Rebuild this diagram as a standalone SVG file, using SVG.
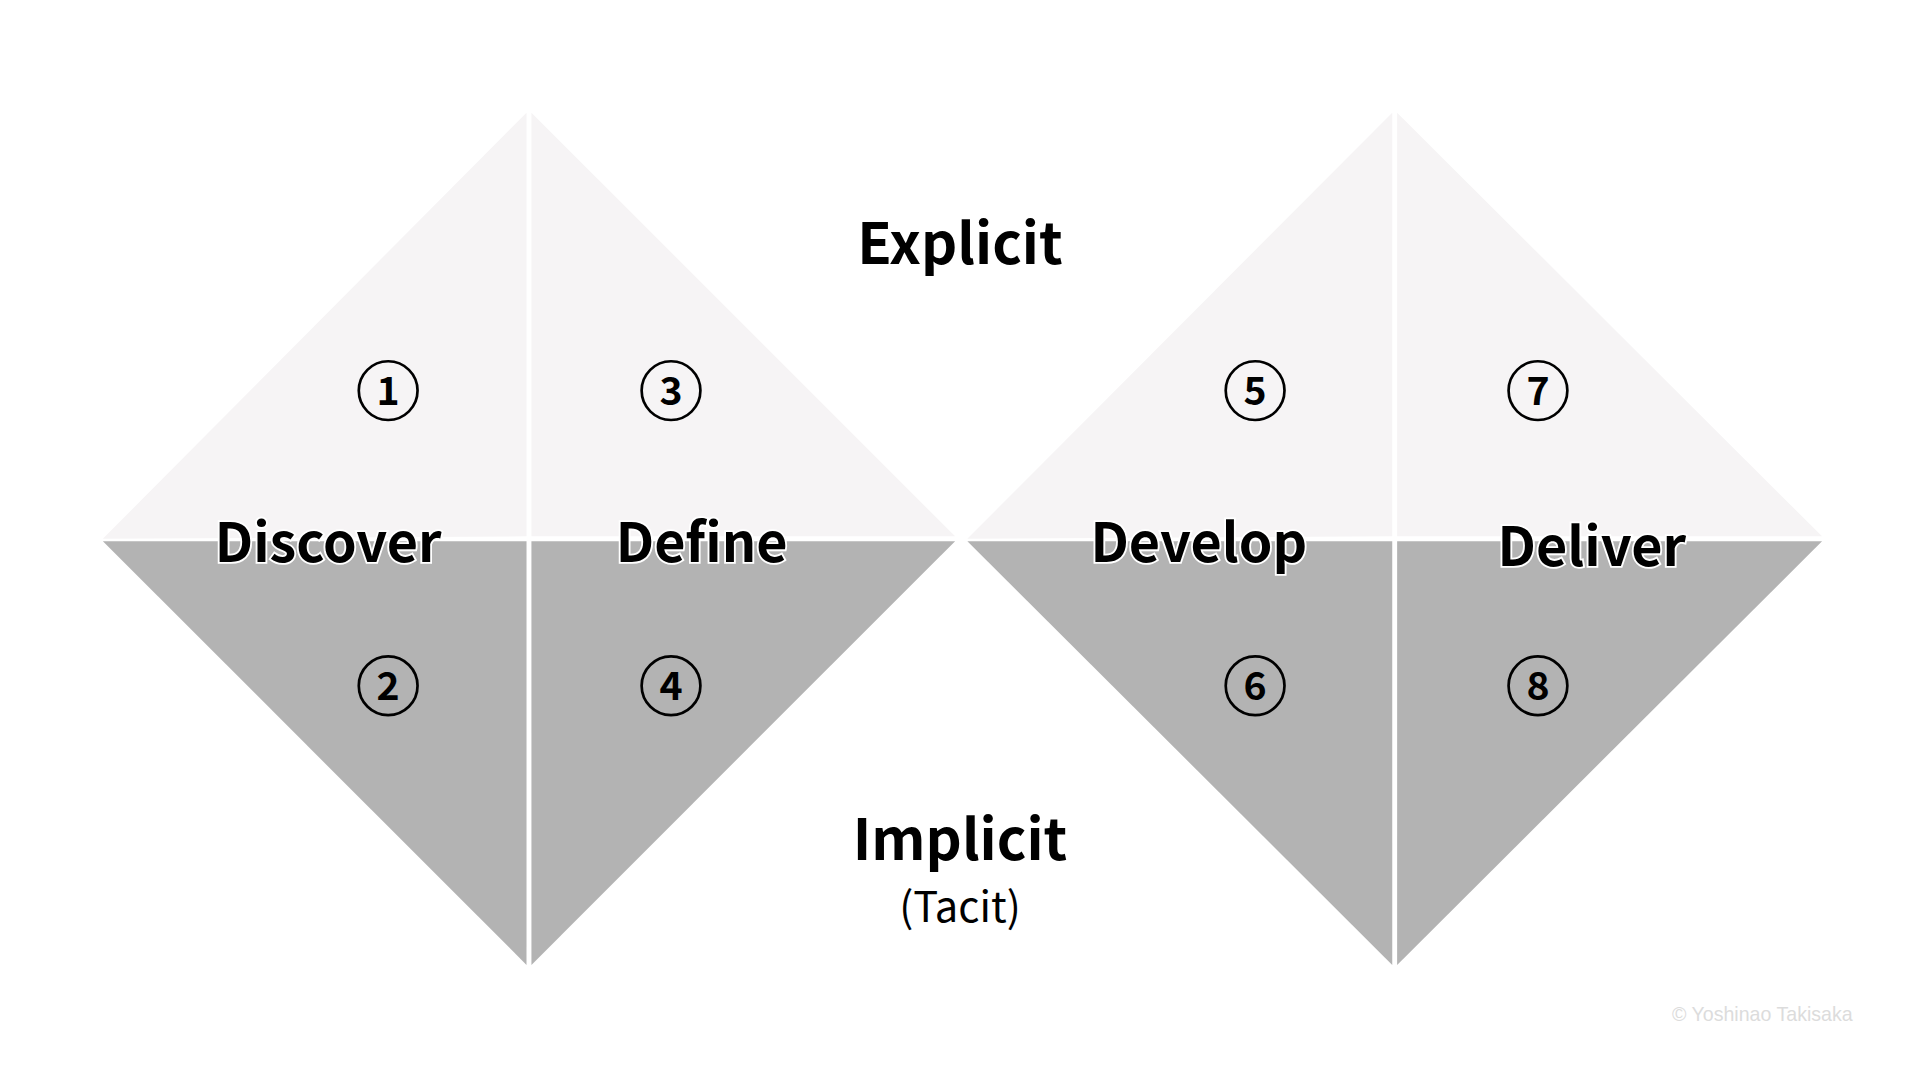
<svg xmlns="http://www.w3.org/2000/svg" width="1920" height="1080" viewBox="0 0 1920 1080">
<style>
.up{fill:#f6f4f5}.lo{fill:#b3b3b3}
.lbl{font-family:"Noto Sans CJK JP","Noto Sans",sans-serif;font-weight:bold;font-size:44px;text-anchor:middle;fill:#000;stroke:#fff;stroke-width:3;paint-order:stroke}
.c{fill:none;stroke:#000;stroke-width:2.2}
.n{font-family:"Noto Sans CJK JP","Noto Sans",sans-serif;font-weight:bold;font-size:32px;text-anchor:middle;fill:#000}
.h{font-family:"Noto Sans CJK JP","Noto Sans",sans-serif;font-weight:bold;font-size:46px;text-anchor:middle;fill:#000}
</style>
<rect width="1920" height="1080" fill="#fff"/>
<g transform="scale(1.22449)">
<g id="diamond1">
<polygon class="up" points="84,440 430,92 430,438"/>
<polygon class="up" points="434,92 780,438 434,438"/>
<polygon class="lo" points="84,442 430,442 430,788"/>
<polygon class="lo" points="434,442 780,442 434,788"/>
</g>
<g id="diamond2">
<polygon class="up" points="790,440 1137,92 1137,438"/>
<polygon class="up" points="1141,92 1488,438 1141,438"/>
<polygon class="lo" points="790,442 1137,442 1137,788"/>
<polygon class="lo" points="1141,442 1488,442 1141,788"/>
</g>
<g id="nums">
<circle class="c" cx="317" cy="319" r="24"/><text class="n" x="317" y="331">1</text>
<circle class="c" cx="548" cy="319" r="24"/><text class="n" x="548" y="331">3</text>
<circle class="c" cx="1025" cy="319" r="24"/><text class="n" x="1025" y="331">5</text>
<circle class="c" cx="1256" cy="319" r="24"/><text class="n" x="1256" y="331">7</text>
<circle class="c" cx="317" cy="560" r="24"/><text class="n" x="317" y="572">2</text>
<circle class="c" cx="548" cy="560" r="24"/><text class="n" x="548" y="572">4</text>
<circle class="c" cx="1025" cy="560" r="24"/><text class="n" x="1025" y="572">6</text>
<circle class="c" cx="1256" cy="560" r="24"/><text class="n" x="1256" y="572">8</text>
</g>
<g id="labels">
<text class="lbl" x="268" y="459">Discover</text>
<text class="lbl" x="573" y="459">Define</text>
<text class="lbl" x="979" y="459">Develop</text>
<text class="lbl" x="1300" y="462">Deliver</text>
</g>
<g id="axis">
<text class="h" x="784" y="216">Explicit</text>
<text class="h" x="784" y="702">Implicit</text>
<text x="784" y="753" font-family="Noto Sans CJK JP, Noto Sans, sans-serif" font-size="34" text-anchor="middle">(Tacit)</text>
</g>
<text x="1513" y="834" font-family="Liberation Sans, sans-serif" font-size="16" fill="#dcdcdc" text-anchor="end">© Yoshinao Takisaka</text>
</g>
</svg>
